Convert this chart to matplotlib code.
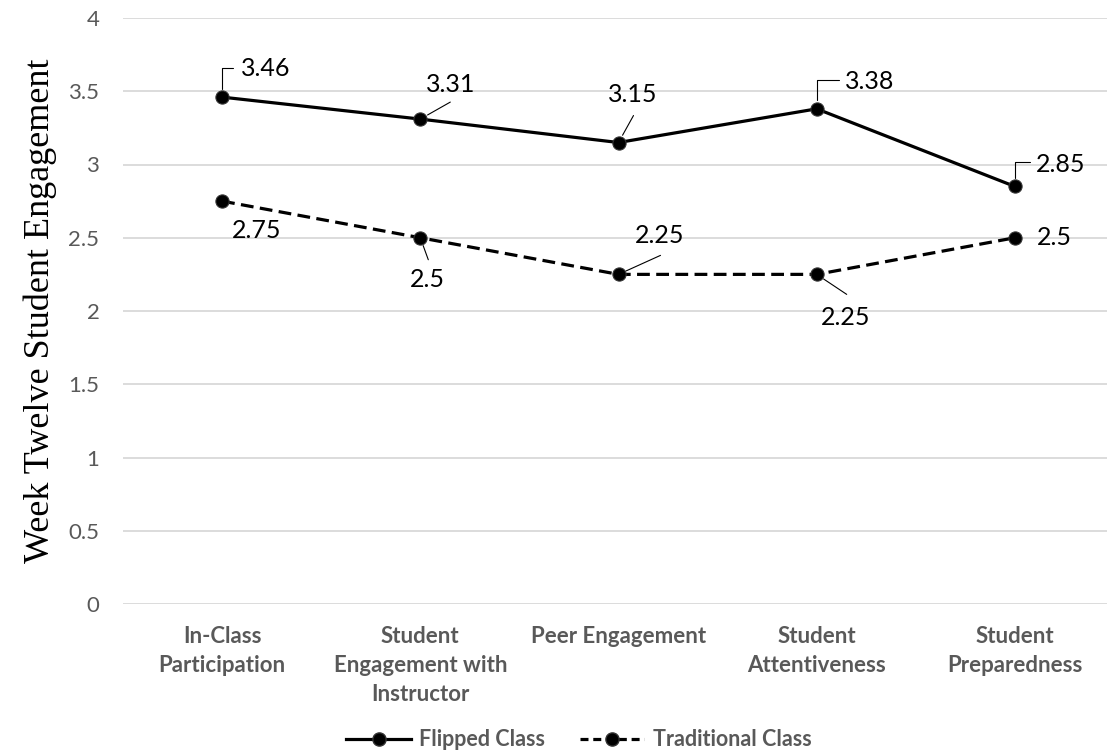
import matplotlib
matplotlib.use('Agg')
import matplotlib.pyplot as plt
from matplotlib.lines import Line2D

categories = ['In-Class\nParticipation', 'Student\nEngagement with\nInstructor',
              'Peer Engagement', 'Student\nAttentiveness', 'Student\nPreparedness']
flipped = [3.46, 3.31, 3.15, 3.38, 2.85]
traditional = [2.75, 2.5, 2.25, 2.25, 2.5]
yticks = [0, 0.5, 1, 1.5, 2, 2.5, 3, 3.5, 4]
ytick_labels = ['0', '0.5', '1', '1.5', '2', '2.5', '3', '3.5', '4']

# label offsets (pixels) from each point, and leader line end (None = no leader)
flip_text = [(44, 29), (30, 35), (14, 48), (53, 27), (46, 22)]
flip_lead = [(11, 29, 'elbow'), (30, 17, 'line'), (15, 27, 'line'), (22, 29, 'elbow'), (15, 24, 'elbow')]
trad_text = [(35, -29), (7, -42), (41, 39), (29, -43), (39, 0)]
trad_lead = [None, (8, -22, 'line'), (42, 19, 'line'), (30, -20, 'line'), None]

font = 'Lato'
gray = '#595959'

fig = plt.figure(figsize=(11.07, 7.54), dpi=100)
ax = fig.add_axes([123 / 1107, 1 - 604 / 754, (1114 - 123) / 1107, 586 / 754])

x = list(range(len(categories)))
ax.plot(x, flipped, color='black', lw=2.3, marker='o', ms=9.5,
        mfc='black', mec='#333333', mew=0.8, zorder=3)
ax.plot(x, traditional, color='black', lw=2.3, ls=(0, (4, 2)), marker='o', ms=9.5,
        mfc='black', mec='#333333', mew=0.8, zorder=3)

def label(xi, v, off, lead):
    ax.annotate(str(v), xy=(xi, v), xytext=off, textcoords='offset pixels',
                ha='center', va='center', fontsize=18, family=font, color='black')
    if lead is None:
        return
    dx, dy, kind = lead
    if kind == 'elbow':
        cs = 'angle,angleA=0,angleB=90,rad=0'
    else:
        cs = 'arc3'
    ax.annotate('', xy=(xi, v), xytext=(dx, dy), textcoords='offset pixels',
                arrowprops=dict(arrowstyle='-', color='black', lw=0.8,
                                shrinkA=0, shrinkB=6, connectionstyle=cs))

for i in x:
    label(i, flipped[i], flip_text[i], flip_lead[i])
    label(i, traditional[i], trad_text[i], trad_lead[i])

ax.set_xlim(-0.5, 4.5)
ax.set_ylim(0, 4)
ax.set_yticks(yticks)
ax.set_yticklabels(ytick_labels, family=font, fontsize=16, color=gray)
ax.set_xticks(x)
ax.set_xticklabels(categories, family=font, fontsize=16, fontweight='bold',
                   color=gray, linespacing=1.45, va='top')
ax.tick_params(axis='y', length=0, pad=17)
ax.tick_params(axis='x', length=0, pad=16)
ax.grid(axis='y', color='#d9d9d9', lw=1.3)
ax.set_axisbelow(True)
for s in ax.spines.values():
    s.set_visible(False)

ax.set_ylabel('Week Twelve Student Engagement', family='Liberation Serif',
              fontsize=26, color='black', labelpad=8)

handles = [Line2D([], [], color='black', lw=2.3, marker='o', ms=9.5, mfc='black', mec='#333333'),
           Line2D([], [], color='black', lw=2.3, ls=(0, (2.5, 1.5)), marker='o', ms=9.5,
                  mfc='black', mec='#333333')]
fig.legend(handles, ['Flipped Class', 'Traditional Class'], loc='center',
           bbox_to_anchor=(579 / 1107, 1 - 740 / 754), ncol=2, frameon=False,
           prop={'family': font, 'size': 15.5, 'weight': 'bold'}, labelcolor=gray,
           handlelength=3.0, handletextpad=0.4, columnspacing=1.6)

fig.savefig('out.png', dpi=100)
